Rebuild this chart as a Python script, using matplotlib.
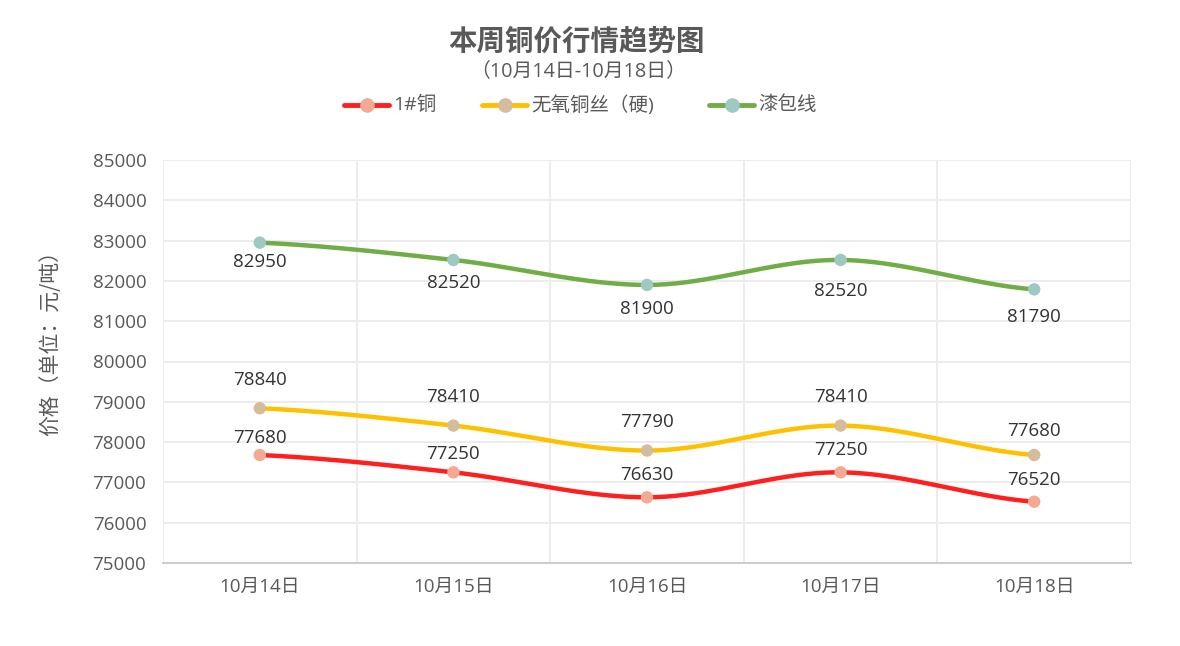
import numpy as np
import matplotlib
matplotlib.use("Agg")
import matplotlib.pyplot as plt
from matplotlib.lines import Line2D

FONT = ['Open Sans', 'Noto Sans CJK SC', 'DejaVu Sans']
CJK = ['Noto Sans CJK SC', 'DejaVu Sans']
plt.rcParams['font.family'] = FONT

title = "本周铜价行情趋势图"
subtitle = "（10月14日-10月18日）"
categories = ["10月14日", "10月15日", "10月16日", "10月17日", "10月18日"]
series_names = ["1#铜", "无氧铜丝（硬)", "漆包线"]
copper = [77680, 77250, 76630, 77250, 76520]
oxygen_free = [78840, 78410, 77790, 78410, 77680]
enameled = [82950, 82520, 81900, 82520, 81790]
y_ticks = [75000, 76000, 77000, 78000, 79000, 80000, 81000, 82000, 83000, 84000, 85000]
y_label = "价格（单位：元/吨）"

line_colors = ["#ff1f1f", "#ffc000", "#70ad47"]
marker_colors = ["#f4aa92", "#d3bd9d", "#9ec8c2"]
# label offsets in pixels (positive = above the point)
label_offsets = [[17, 18, 22, 22, 22],
                 [28, 29, 29, 29, 24],
                 [-19, -23, -24, -31, -28]]
txt = "#595959"

W, H = 1180, 646

def smooth(x, y, n=40):
    x = np.asarray(x, float); y = np.asarray(y, float)
    m = np.zeros_like(y)
    m[1:-1] = (y[2:] - y[:-2]) / (x[2:] - x[:-2])
    m[0] = (y[1] - y[0]) / (x[1] - x[0]) * 0.5
    m[-1] = (y[-1] - y[-2]) / (x[-1] - x[-2]) * 0.5
    xs, ys = [], []
    for i in range(len(x) - 1):
        h = x[i + 1] - x[i]
        t = np.linspace(0, 1, n, endpoint=(i == len(x) - 2))
        h00 = 2 * t**3 - 3 * t**2 + 1
        h10 = t**3 - 2 * t**2 + t
        h01 = -2 * t**3 + 3 * t**2
        h11 = t**3 - t**2
        xs.append(x[i] + t * h)
        ys.append(h00 * y[i] + h10 * h * m[i] + h01 * y[i + 1] + h11 * h * m[i + 1])
    return np.concatenate(xs), np.concatenate(ys)

fig = plt.figure(figsize=(W / 100, H / 100), dpi=100)
ax = fig.add_axes([163 / W, 83 / H, (1131 - 163) / W, (563 - 160) / H])

x = np.arange(len(categories))
data = [copper, oxygen_free, enameled]
for vals, lc, mc, offs in zip(data, line_colors, marker_colors, label_offsets):
    sx, sy = smooth(x, vals)
    ax.plot(sx, sy, color=lc, lw=3.2, zorder=3, solid_capstyle='round')
    ax.scatter(x, vals, s=80, color=mc, zorder=4, edgecolors='none')
    for xi, v, off in zip(x, vals, offs):
        ax.annotate(f"{v}", (xi, v), xytext=(0, off), textcoords='offset pixels',
                    ha='center', va='center', fontsize=13.5, color='#333333', zorder=5)

ax.set_xlim(-0.5, len(categories) - 0.5)
ax.set_ylim(75000, 85000)
ax.set_yticks(y_ticks)
ax.set_yticklabels([str(t) for t in y_ticks])
ax.set_xticks(x)
ax.set_xticklabels(categories)
ax.set_xticks(np.arange(-0.5, len(categories), 1), minor=True)
ax.tick_params(axis='both', which='both', length=0, labelsize=13.5, colors=txt)
ax.tick_params(axis='x', pad=11)
ax.tick_params(axis='y', pad=12)
ax.grid(True, axis='y', color='#ececec', lw=1.4)
ax.grid(True, axis='x', which='minor', color='#ececec', lw=1.4)
ax.grid(False, axis='x', which='major')
ax.set_axisbelow(True)
for s in ['top', 'right', 'left']:
    ax.spines[s].set_visible(False)
ax.spines['bottom'].set_color('#cccccc')
ax.spines['bottom'].set_linewidth(1.4)

fig.text(50 / W, 1 - 338 / H, y_label, rotation=90, ha='center', va='center',
         fontsize=15, color=txt, family=CJK)

fig.text(577 / W, 1 - 42 / H, title, ha='center', va='center', fontsize=20.5,
         fontweight='bold', color=txt, family=CJK)
fig.text(578 / W, 1 - 71 / H, subtitle, ha='center', va='center', fontsize=14.3, color=txt)

# legend, drawn by hand
legend_x = [344, 482, 709]
ly = 1 - 105 / H
for name, lc, mc, lx in zip(series_names, line_colors, marker_colors, legend_x):
    fig.add_artist(Line2D([lx / W, (lx + 45) / W], [ly, ly], color=lc, lw=3.5,
                          solid_capstyle='round', transform=fig.transFigure))
    fig.add_artist(Line2D([(lx + 22.5) / W], [ly], marker='o', markersize=9.5,
                          markerfacecolor=mc, markeredgecolor=mc, transform=fig.transFigure))
    fig.text((lx + 49) / W, ly, name, ha='left', va='center', fontsize=14, color=txt)

fig.savefig("out.png", dpi=100, facecolor='white')
